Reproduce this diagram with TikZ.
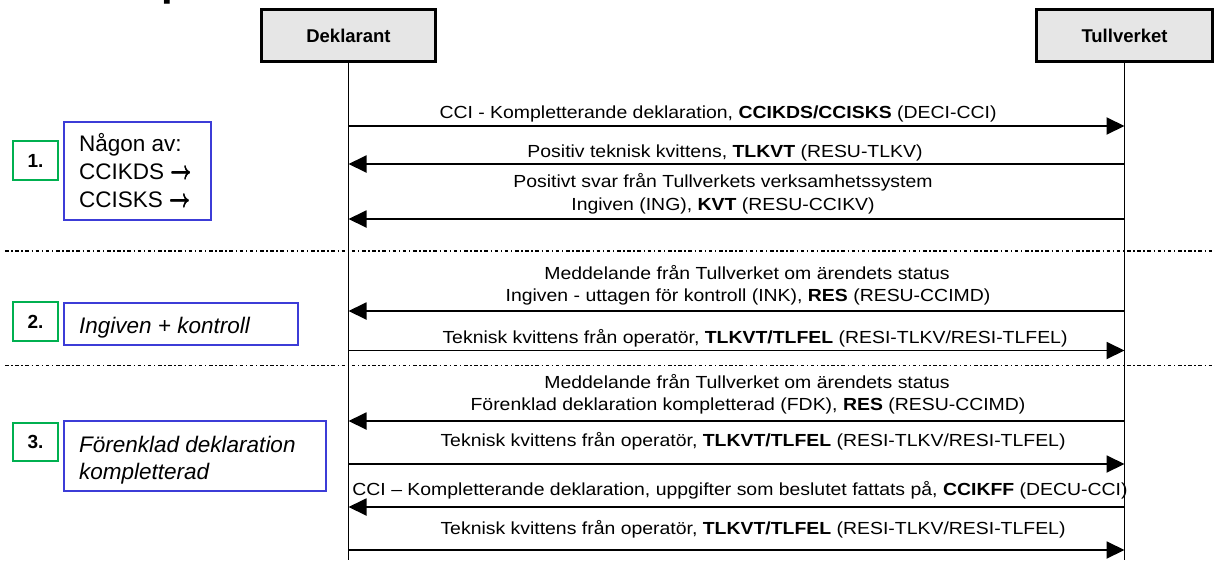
\documentclass[tikz,border=0pt]{standalone}
\usepackage{fontspec}
\setmainfont{Liberation Sans}
\newfontfamily\lblfont[FakeStretch=1.11]{Liberation Sans}
\usetikzlibrary{arrows.meta}
\definecolor{hdrgray}{RGB}{230,230,230}
\definecolor{numgreen}{RGB}{0,176,80}
\definecolor{descblue}{RGB}{60,60,215}
\newcommand{\rawarrowglyph}{\scalebox{0.88}[1.2]{\fontsize{22}{24}\selectfont\boldmath$\rightarrow$}}
\newcommand{\boxarrow}{\makebox[0pt][l]{\raisebox{0.5pt}{\rawarrowglyph}}\makebox[0pt][l]{\raisebox{-0.5pt}{\rawarrowglyph}}\rawarrowglyph}
\tikzset{
  hdr/.style={draw, line width=2.2pt, fill=hdrgray, minimum height=52pt, inner sep=0pt,
    font=\fontsize{18.5}{22}\selectfont\bfseries},
  life/.style={line width=1.9pt},
  msg/.style={line width=1.9pt, -{Triangle[length=18pt,width=17pt]}},
  lbl/.style={anchor=base, inner sep=0pt, font=\lblfont\fontsize{17.5}{21}\selectfont},
  sepline/.style={line width=1.4pt, dash pattern=on 3.6pt off 2.6pt on 1.4pt off 2.6pt},
  numbox/.style={draw=numgreen, line width=1.8pt, minimum width=45pt, minimum height=39pt,
    inner sep=0pt, font=\fontsize{19}{22}\selectfont\bfseries},
  descbox/.style={draw=descblue, line width=1.3pt, inner sep=0pt},
  desctxt/.style={anchor=base west, inner sep=0pt, font=\fontsize{22.5}{27}\selectfont},
  descit/.style={desctxt, font=\fontsize{22.5}{27}\selectfont\itshape},
}
\begin{document}
\begin{tikzpicture}[x=1pt,y=-1pt]
\useasboundingbox (0,0) rectangle (1215,560);
% cut-off title fragment
\node[anchor=base west, inner sep=0pt, font=\fontsize{42}{46}\selectfont\bfseries] (title) at (161.5,-5) {p};

% participants
\node[hdr, minimum width=174pt] (dek) at (348.5,35.5) {Deklarant};
\node[hdr, minimum width=176pt] (tul) at (1124.5,35.5) {Tullverket};
\coordinate (dekbot) at (348.5,560);
\coordinate (tulbot) at (1124.5,560);
\draw[life] (dek.south) -- (dekbot);
\draw[life] (tul.south) -- (tulbot);

% separators
\coordinate (s1l) at (5,251);   \coordinate (s1r) at (1215,251);
\coordinate (s2l) at (5,365.5); \coordinate (s2r) at (1215,365.5);
\draw[sepline] (s1l) -- (s1r);
\draw[sepline] (s2l) -- (s2r);

% message end points
\foreach \i/\y in {1/126,2/164,3/219,4/311,5/350.5,6/421,7/464,8/507,9/550}{
  \coordinate (d\i) at (348.5,\y);
  \coordinate (t\i) at (1124.5,\y);
}
\draw[msg] (d1) -- (t1);
\draw[msg] (t2) -- (d2);
\draw[msg] (t3) -- (d3);
\draw[msg] (t4) -- (d4);
\draw[msg] (d5) -- (t5);
\draw[msg] (t6) -- (d6);
\draw[msg] (d7) -- (t7);
\draw[msg] (t8) -- (d8);
\draw[msg] (d9) -- (t9);

% labels
\node[lbl] (l1) at (718,118) {CCI - Kompletterande deklaration, \textbf{CCIKDS/CCISKS} (DECI-CCI)};
\node[lbl] (l2) at (725,157) {Positiv teknisk kvittens, \textbf{TLKVT} (RESU-TLKV)};
\node[lbl] (l3a) at (723,187) {Positivt svar från Tullverkets verksamhetssystem};
\node[lbl] (l3b) at (723,210) {Ingiven (ING), \textbf{KVT} (RESU-CCIKV)};
\node[lbl] (l4a) at (747,279) {Meddelande från Tullverket om ärendets status};
\node[lbl] (l4b) at (748,301.5) {Ingiven - uttagen för kontroll (INK), \textbf{RES} (RESU-CCIMD)};
\node[lbl] (l5) at (755,343) {Teknisk kvittens från operatör, \textbf{TLKVT/TLFEL} (RESI-TLKV/RESI-TLFEL)};
\node[lbl] (l6a) at (747,388) {Meddelande från Tullverket om ärendets status};
\node[lbl] (l6b) at (748,410.5) {Förenklad deklaration kompletterad (FDK), \textbf{RES} (RESU-CCIMD)};
\node[lbl] (l7) at (753,446) {Teknisk kvittens från operatör, \textbf{TLKVT/TLFEL} (RESI-TLKV/RESI-TLFEL)};
\node[lbl] (l8) at (740,495) {CCI – Kompletterande deklaration, uppgifter som beslutet fattats på, \textbf{CCIKFF} (DECU-CCI)};
\node[lbl] (l9) at (753,534) {Teknisk kvittens från operatör, \textbf{TLKVT/TLFEL} (RESI-TLKV/RESI-TLFEL)};

% left annotations
\node[numbox] (n1) at (35.5,160.5) {1.};
\node[numbox] (n2) at (35.5,321.5) {2.};
\node[numbox, minimum height=38pt] (n3) at (35.5,442) {3.};

\node[descbox, minimum width=147pt, minimum height=98pt] (b1) at (137.5,171) {};
\node[descbox, minimum width=234pt, minimum height=42pt] (b2) at (181,324) {};
\node[descbox, minimum width=262pt, minimum height=70pt] (b3) at (195,456) {};

\node[desctxt] (b1a) at (79,151) {Någon av:};
\node[desctxt] (b1b) at (79,179) {CCIKDS \boxarrow};
\node[desctxt] (b1c) at (79,207) {CCISKS \boxarrow};
\node[descit] (b2a) at (79,333) {Ingiven + kontroll};
\node[descit] (b3a) at (79,452) {Förenklad deklaration};
\node[descit] (b3b) at (79,479) {kompletterad};
\end{tikzpicture}
\end{document}
